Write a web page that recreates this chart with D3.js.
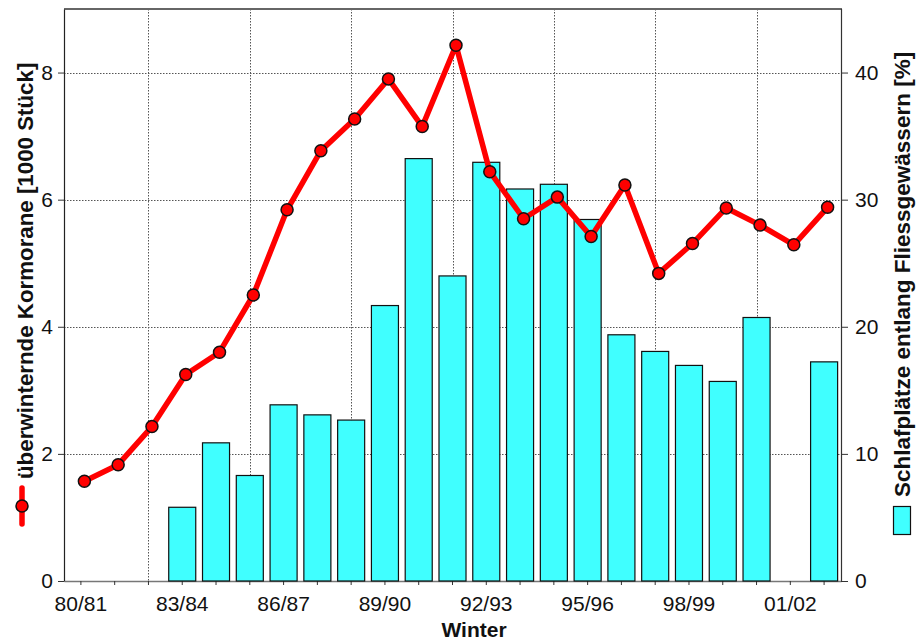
<!DOCTYPE html>
<html>
<head>
<meta charset="utf-8">
<script src="https://cdn.jsdelivr.net/npm/d3@7"></script>
<style>
  html, body { margin: 0; padding: 0; background: #fff; }
  svg { display: block; font-family: "Liberation Sans", Arial, sans-serif; }
</style>
</head>
<body>
<svg id="chart" width="916" height="643"></svg>
<script>
// Winters (seasons) on the x axis
const winters = ["80/81","81/82","82/83","83/84","84/85","85/86","86/87","87/88","88/89","89/90",
                 "90/91","91/92","92/93","93/94","94/95","95/96","96/97","97/98","98/99","99/00",
                 "00/01","01/02","02/03"];

// Wintering cormorants, thousands of birds (left axis)
const kormorane = [1.57, 1.83, 2.43, 3.25, 3.60, 4.50, 5.84, 6.77, 7.27, 7.90,
                   7.15, 8.43, 6.44, 5.70, 6.04, 5.42, 6.23, 4.84, 5.31, 5.87,
                   5.60, 5.29, 5.88];

// Share of roosts along rivers and streams, percent (right axis); null = no survey
const schlafplaetze = [null, 0, 0, 5.8, 10.87, 8.3, 13.86, 13.07, 12.66, 21.67,
                       33.23, 24.0, 32.94, 30.84, 31.21, 28.44, 19.37, 18.06, 16.96, 15.70,
                       20.73, null, 17.24];

// Axis labelling
const xTickLabels = ["80/81","83/84","86/87","89/90","92/93","95/96","98/99","01/02"];
const xGridWinters = ["82/83","85/86","88/89","91/92","94/95","97/98","00/01"];
const leftTicks = [0, 2, 4, 6, 8];
const rightTicks = [0, 10, 20, 30, 40];
const leftTitle = "überwinternde Kormorane [1000 Stück]";
const rightTitle = "Schlafplätze entlang Fliessgewässern [%]";
const xTitle = "Winter";

const svg = d3.select("#chart");
const plot = { left: 64, right: 841, top: 9, bottom: 581 };

const x = d3.scaleBand().domain(winters).range([plot.left, plot.right])
  .paddingInner(0.2).paddingOuter(0.1);
// the line series is plotted slightly right of the bar centres
const xLine = d3.scaleBand().domain(winters).range([plot.left + 3.5, plot.right + 3.5])
  .paddingInner(0.2).paddingOuter(0.1);
const yL = d3.scaleLinear().domain([0, 9]).range([plot.bottom, plot.top]);
const yR = d3.scaleLinear().domain([0, 45]).range([plot.bottom, plot.top]);
const cx = d => x(d) + x.bandwidth() / 2;

// dotted grid
const grid = svg.append("g").attr("stroke", "#555").attr("stroke-width", 1)
  .attr("stroke-dasharray", "1.5,1.5").attr("fill", "none");
grid.selectAll("line.h").data(leftTicks.filter(t => t > 0)).join("line")
  .attr("x1", plot.left).attr("x2", plot.right)
  .attr("y1", d => Math.round(yL(d)) + 0.5).attr("y2", d => Math.round(yL(d)) + 0.5);
grid.selectAll("line.v").data(xGridWinters).join("line")
  .attr("x1", d => Math.round(cx(d)) + 0.5).attr("x2", d => Math.round(cx(d)) + 0.5)
  .attr("y1", plot.top).attr("y2", plot.bottom);

// frame
svg.append("line").attr("x1", plot.left).attr("x2", plot.right + 1)
  .attr("y1", plot.top).attr("y2", plot.top).attr("stroke", "#666").attr("stroke-width", 2);
svg.append("line").attr("x1", plot.right + 0.5).attr("x2", plot.right + 0.5)
  .attr("y1", plot.top).attr("y2", plot.bottom).attr("stroke", "#333").attr("stroke-width", 1.2);

// axes
const axisFont = g => g.selectAll("text").attr("font-size", 21)
  .attr("font-family", "'Liberation Sans', Arial, sans-serif").attr("fill", "#111");

const gx = svg.append("g").attr("transform", `translate(0,${plot.bottom})`)
  .call(d3.axisBottom(x).tickSizeInner(4).tickSizeOuter(0).tickPadding(11)
    .tickFormat(d => xTickLabels.includes(d) ? d : ""));
gx.select(".domain").attr("stroke", "#777").attr("stroke-width", 1.5);
gx.selectAll(".tick line").attr("stroke", "#333");
gx.call(axisFont);

const gl = svg.append("g").attr("transform", `translate(${plot.left},0)`)
  .call(d3.axisLeft(yL).tickValues(leftTicks).tickSizeInner(6).tickSizeOuter(0).tickPadding(5));
gl.select(".domain").attr("stroke", "#222").attr("stroke-width", 1.2);
gl.selectAll(".tick line").attr("stroke", "#333");
gl.call(axisFont);

const gr = svg.append("g").attr("transform", `translate(${plot.right},0)`)
  .call(d3.axisRight(yR).tickValues(rightTicks).tickSizeInner(7).tickSizeOuter(0).tickPadding(7));
gr.select(".domain").remove();
gr.selectAll(".tick line").attr("stroke", "#333");
gr.call(axisFont);

// bars (zero values show as a dark line on the base)
svg.append("g").selectAll("rect")
  .data(winters.map((w, i) => ({ w, v: schlafplaetze[i] })).filter(d => d.v !== null))
  .join("rect")
  .attr("x", d => x(d.w)).attr("width", x.bandwidth())
  .attr("y", d => yR(d.v)).attr("height", d => yR(0) - yR(d.v))
  .attr("fill", "#40ffff").attr("stroke", "#111").attr("stroke-width", 1.2);

// cormorant line with markers
const pts = winters.map((w, i) => ({ w, v: kormorane[i] }));
svg.append("path").datum(pts)
  .attr("d", d3.line().x(d => xLine(d.w) + xLine.bandwidth() / 2).y(d => yL(d.v)))
  .attr("fill", "none").attr("stroke", "#ff0000").attr("stroke-width", 5.5)
  .attr("stroke-linejoin", "round");
svg.append("g").selectAll("circle").data(pts).join("circle")
  .attr("cx", d => xLine(d.w) + xLine.bandwidth() / 2).attr("cy", d => yL(d.v)).attr("r", 6)
  .attr("fill", "#ff0000").attr("stroke", "#111").attr("stroke-width", 1.5);

// axis titles with legend keys
svg.append("text").attr("transform", "translate(474,637)").attr("text-anchor", "middle")
  .attr("font-size", 21).attr("font-weight", "bold").attr("fill", "#111").text(xTitle);

svg.append("text").attr("transform", "translate(33,479) rotate(-90)").attr("text-anchor", "start")
  .attr("font-size", 22.3).attr("font-weight", "bold").attr("fill", "#111").text(leftTitle);
svg.append("line").attr("x1", 22).attr("x2", 22).attr("y1", 488).attr("y2", 524)
  .attr("stroke", "#ff0000").attr("stroke-width", 5.5).attr("stroke-linecap", "round");
svg.append("circle").attr("cx", 22).attr("cy", 506).attr("r", 6)
  .attr("fill", "#ff0000").attr("stroke", "#111").attr("stroke-width", 1.5);

svg.append("text").attr("transform", "translate(910,497) rotate(-90)").attr("text-anchor", "start")
  .attr("font-size", 22.5).attr("font-weight", "bold").attr("fill", "#111").text(rightTitle);
svg.append("rect").attr("x", 893.5).attr("y", 506.5).attr("width", 17).attr("height", 28)
  .attr("fill", "#40ffff").attr("stroke", "#111").attr("stroke-width", 1.2);
</script>
</body>
</html>
